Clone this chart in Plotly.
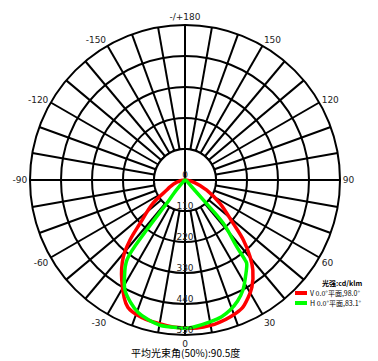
import plotly.graph_objects as go

# ---------------- data ----------------
radial_ticks = [0, 110, 220, 330, 440, 550]
radial_labels = ["0", "110", "220", "330", "440", "550"]

angle_tick_vals = list(range(0, 360, 10))
angle_label_map = {0: "0", 30: "30", 60: "60", 90: "90", 120: "120", 150: "150",
                   180: "-/+180", 210: "-150", 240: "-120", 270: "-90", 300: "-60", 330: "-30"}

red_name = "V 0.0°平面,98.0°"
red_theta = [-90, -75, -65, -61, -54, -46, -42.5, -38.8, -32.3, -24.2, -17, -10, -4.7, 0,
             4.6, 10, 13.8, 19, 24, 28, 32, 37, 40.3, 44.2, 48, 56.3, 65, 75, 90]
red_r = [0, 30, 60, 74, 140, 222, 289, 349, 420, 495, 512, 518, 523, 525,
         527, 524, 519, 510, 498, 475, 448, 400, 357, 297, 230, 149, 85, 35, 0]

green_name = "H 0.0°平面,83.1°"
green_theta = [-90, -60, -45, -40, -38, -37.5, -36, -32, -28.6, -24, -19.6, -15, -9.8, -2, 0,
               3, 10, 15, 19, 23.5, 27.8, 32, 36.5, 36.9, 37.8, 41.5, 42.5, 45, 60, 90]
green_r = [0, 3, 10, 60, 105, 224, 351, 405, 445, 475, 498, 512, 523, 525, 526,
           523, 511, 502, 489, 468, 441, 405, 368, 355, 300, 205, 96, 30, 5, 0]

legend_title = "光强:cd/klm"
chart_title = "平均光束角(50%):90.5度"

# ---------------- figure ----------------
fig = go.Figure()

# white disc hiding the spokes inside the first ring
circle_theta = list(range(0, 361, 2))
fig.add_trace(go.Scatterpolar(r=[radial_ticks[1]] * len(circle_theta), theta=circle_theta,
                              mode="lines", fill="toself", fillcolor="white",
                              line=dict(color="black", width=2), hoverinfo="skip",
                              showlegend=False))
# main axes through the centre
for a in (0, 90):
    fig.add_trace(go.Scatterpolar(r=[radial_ticks[1], 0, radial_ticks[1]], theta=[a, a, a + 180],
                                  mode="lines", line=dict(color="black", width=2),
                                  hoverinfo="skip", showlegend=False))

fig.add_trace(go.Scatterpolar(r=red_r, theta=red_theta, mode="lines", name=red_name,
                              line=dict(color="#ff0000", width=3.5, shape="spline"),
                              showlegend=False))
fig.add_trace(go.Scatterpolar(r=green_r, theta=green_theta, mode="lines", name=green_name,
                              line=dict(color="#00ff00", width=3.5, shape="spline"),
                              showlegend=False))

# radial value labels along the 0° spoke
fig.add_trace(go.Scatterpolar(r=radial_ticks, theta=[0] * len(radial_ticks), mode="text",
                              text=radial_labels, textposition="top center",
                              textfont=dict(family="DejaVu Sans", size=9, color="#222"),
                              hoverinfo="skip", showlegend=False))

fig.update_layout(
    width=378, height=361,
    margin=dict(l=30, r=38, t=25, b=26),
    paper_bgcolor="white",
    plot_bgcolor="white",
    showlegend=False,
    polar=dict(
        domain=dict(x=[0, 1], y=[0, 1]),
        bgcolor="white",
        radialaxis=dict(range=[0, 550], tickvals=radial_ticks[1:], showticklabels=False,
                        ticks="", showline=False, gridcolor="black", gridwidth=2,
                        layer="below traces"),
        angularaxis=dict(rotation=-90, direction="counterclockwise",
                         tickmode="array", tickvals=angle_tick_vals,
                         ticktext=[angle_label_map.get(v, "") for v in angle_tick_vals],
                         ticks="", showline=True, linecolor="black", linewidth=2,
                         gridcolor="black", gridwidth=2, layer="below traces",
                         tickfont=dict(family="DejaVu Sans", size=9, color="#222")),
    ),
)

# compact legend drawn at the lower right
def px_x(x):
    return (x - 30) / 310.0

def px_y(y):
    return (335 - y) / 310.0

fig.add_annotation(x=px_x(320), y=px_y(283), xref="paper", yref="paper", text="<b>" + legend_title + "</b>",
                   showarrow=False, xanchor="left", yanchor="middle",
                   font=dict(family="Noto Sans CJK SC", size=7, color="black"))
for name, color, yy in ((red_name, "#ff0000", 293), (green_name, "#00ff00", 303)):
    fig.add_shape(type="line", xref="paper", yref="paper", x0=px_x(295), x1=px_x(307),
                  y0=px_y(yy), y1=px_y(yy), line=dict(color=color, width=4))
    fig.add_annotation(x=px_x(308), y=px_y(yy), xref="paper", yref="paper", text=name,
                       showarrow=False, xanchor="left", yanchor="middle",
                       font=dict(family="Noto Sans CJK SC", size=7, color="black"))

fig.add_annotation(x=0.5, y=px_y(352), xref="paper", yref="paper", text=chart_title,
                   showarrow=False, xanchor="center", yanchor="middle",
                   font=dict(family="Noto Sans CJK SC", size=10, color="black"))

fig.write_html("out.html")
